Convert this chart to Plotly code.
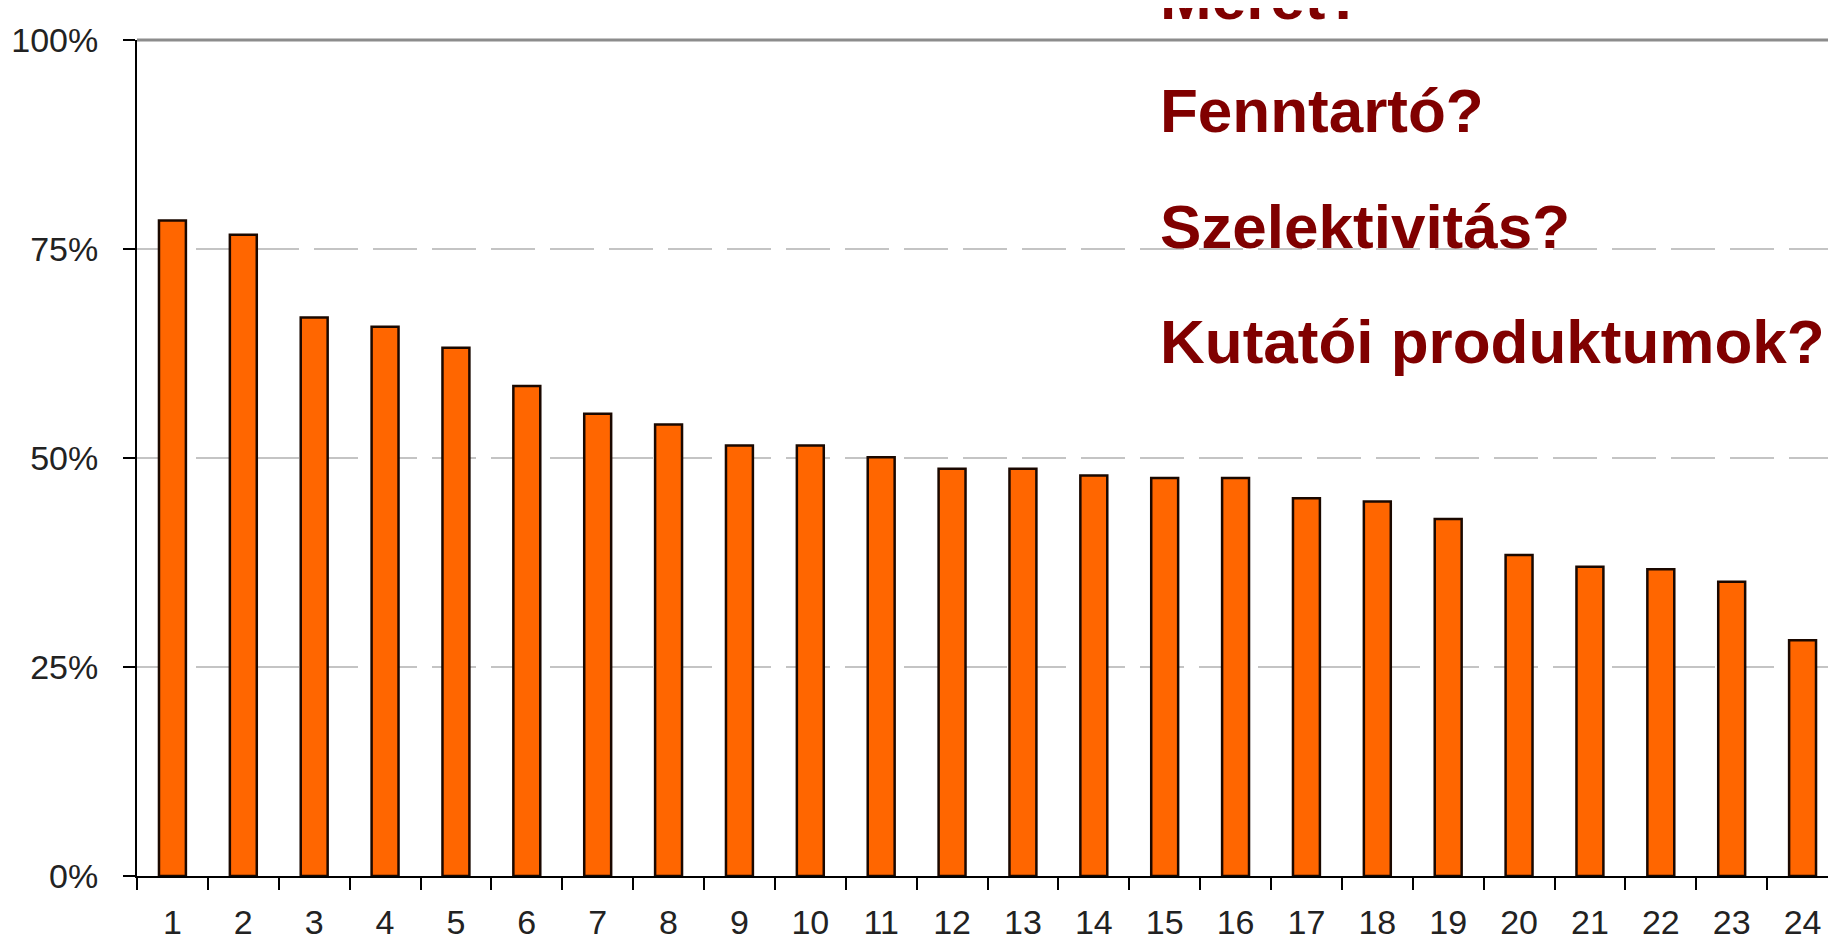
import plotly.graph_objects as go

categories = [str(i) for i in range(1, 25)]
values = [78.4, 76.7, 66.8, 65.7, 63.2, 58.6, 55.3, 54.0, 51.5, 51.5, 50.1, 48.7,
          48.7, 47.9, 47.6, 47.6, 45.2, 44.8, 42.7, 38.4, 37.0, 36.7, 35.2, 28.2]
y_tickvals = [0, 25, 50, 75, 100]
y_ticktext = ["0%", "25%", "50%", "75%", "100%"]
questions = ["Méret?", "Fenntartó?", "Szelektivitás?", "Kutatói produktumok?"]

W, H = 1836, 944
L, R, T, B = 129, 6, 32, 76
plot_h = H - T - B

fig = go.Figure()
fig.add_trace(go.Bar(
    x=categories, y=values, width=0.38,
    marker=dict(color="#FF6600", line=dict(color="#1a0800", width=2.5)),
    hoverinfo="x+y",
))

tick_font = dict(family="Liberation Sans, Arial, sans-serif", size=34, color="#222222")

fig.update_layout(
    width=W, height=H,
    margin=dict(l=L, r=R, t=T, b=B, autoexpand=False),
    paper_bgcolor="white", plot_bgcolor="white",
    showlegend=False,
)
fig.update_xaxes(
    type="category", tickson="boundaries",
    ticks="outside", ticklen=12, tickwidth=2, tickcolor="black",
    showline=True, linecolor="black", linewidth=2,
    showgrid=False, tickfont=tick_font, ticklabelstandoff=15,
)
fig.update_yaxes(
    range=[0, 100], tickvals=y_tickvals, ticktext=y_ticktext,
    ticks="outside", ticklen=12, tickwidth=2, tickcolor="black",
    showline=True, linecolor="black", linewidth=2,
    showgrid=True, gridcolor="#c4c4c4", gridwidth=2, griddash="44px,15px",
    zeroline=False, tickfont=tick_font, ticklabelstandoff=18,
)

# frame top and right
fig.add_shape(type="line", xref="paper", yref="paper", x0=0, x1=1, y0=1, y1=1,
              line=dict(color="#8c8c8c", width=3))
fig.add_shape(type="line", xref="paper", yref="paper", x0=1, x1=1, y0=0, y1=1,
              line=dict(color="#b0b0b0", width=1))

# question annotations (pixel centers converted to paper coordinates)
centers_px = [-11, 103, 218, 333]
for q, cy in zip(questions, centers_px):
    fig.add_annotation(
        text=q, xref="paper", yref="paper",
        x=(1150 - L) / (W - L - R), y=(H - B - cy) / plot_h,
        xanchor="left", yanchor="middle", showarrow=False,
        font=dict(family="Liberation Sans, Arial, sans-serif", size=62, color="#800000",
                  weight="bold"),
    )

fig.write_html("out.html")
